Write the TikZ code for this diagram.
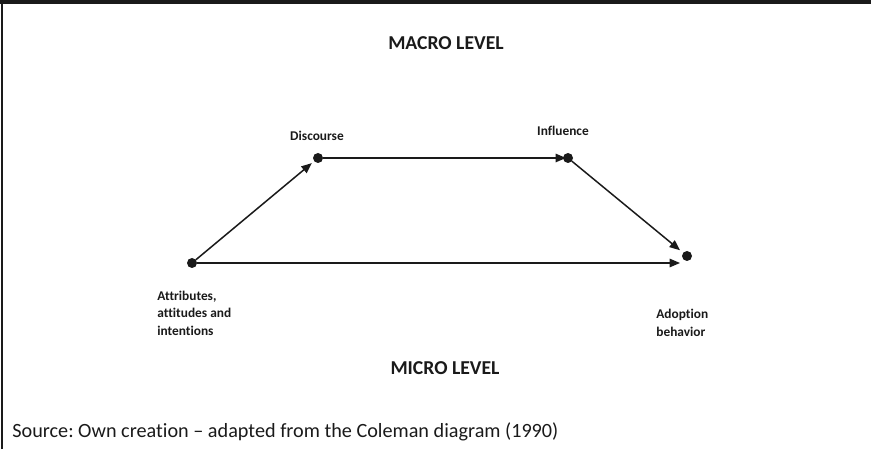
\documentclass[tikz,border=0pt]{standalone}
\usepackage{fontspec}
\setmainfont{Carlito}[Ligatures={NoCommon}]
\frenchspacing
\usetikzlibrary{arrows.meta}
\definecolor{inkblack}{RGB}{26, 26, 26}
\tikzset{
    dot/.style     = {circle, fill=inkblack, inner sep=0pt, outer sep=0pt, minimum size=0.2cm},
    link/.style    = {draw=inkblack, line width=0.85pt, -{Triangle[length=0.21cm, width=0.17cm]}},
    levellabel/.style = {font=\bfseries\fontsize{11.2}{13}\selectfont, text=inkblack, inner sep=0pt},
    pointlabel/.style = {font=\bfseries\fontsize{7.6}{9.9}\selectfont, text=inkblack, inner sep=0pt, align=left}
}
\begin{document}
\begin{tikzpicture}
            \useasboundingbox                                           ( 0.00, 0.00) rectangle (17.42, 8.98);
            \fill[inkblack]                                             ( 0.00, 8.90) rectangle (17.42, 8.98);
            \draw[inkblack, line width=1.1pt]                           ( 0.04, 0.00) -- ( 0.04, 8.94);
            \node[dot]        (attr)     at ( 3.84, 3.72) {};
            \node[dot]        (disc)     at ( 6.36, 5.82) {};
            \node[dot]        (infl)     at (11.36, 5.82) {};
            \node[dot]        (adopt)    at (13.74, 3.86) {};
            \coordinate       (adoptend) at (13.60, 3.72);
            \draw[link, shorten >=0.06cm]                               (attr)  -- (disc);
            \draw[link, shorten >=-0.06cm]                              (disc)  -- (infl);
            \draw[link, shorten >=0.08cm]                               (infl)  -- (adopt);
            \draw[link]                                                 (attr)  -- (adoptend);
            \node[levellabel]                  (macro)    at ( 8.92, 8.12) {MACRO LEVEL};
            \node[levellabel]                  (micro)    at ( 8.90, 1.62) {MICRO LEVEL};
            \node[pointlabel]                  (disclbl)  at ( 6.34, 6.26) {Discourse};
            \node[pointlabel]                  (infllbl)  at (11.26, 6.36) {Influence};
            \node[pointlabel, anchor=west]     (attrlbl)  at ( 3.14, 2.72) {Attributes,\\attitudes and\\intentions};
            \node[pointlabel, anchor=west]     (adoptlbl) at (13.12, 2.52) {Adoption\\behavior};
            \node[anchor=west, inner sep=0pt, font=\fontsize{11.5}{13.5}\selectfont, text=inkblack]
                                               (source)   at ( 0.24, 0.34) {Source: Own creation -- adapted from the Coleman diagram (1990)};
        \end{tikzpicture}
\end{document}
